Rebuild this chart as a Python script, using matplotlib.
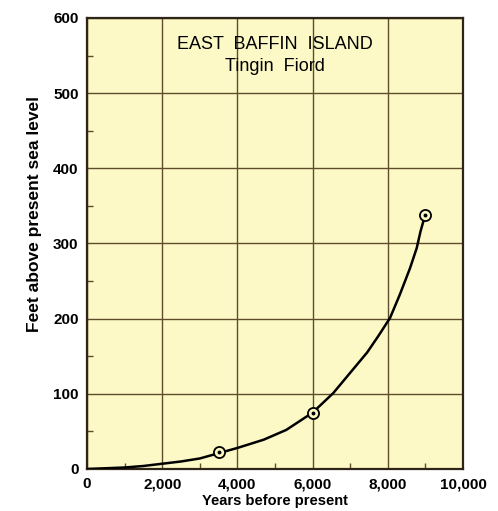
import matplotlib.pyplot as plt
from matplotlib.ticker import MultipleLocator, FuncFormatter

plt.rcParams['font.family'] = ['Liberation Sans', 'DejaVu Sans']

# dated shorelines (circled points)
years = [3500, 6000, 9000]
feet = [22, 75, 338]

# curve
curve_x = [0, 500, 1000, 1500, 2000, 2500, 3000, 3500, 4000, 4700, 5300,
           6000, 6550, 7000, 7450, 7750, 8060, 8320, 8590, 8770, 8870, 8960, 9000]
curve_y = [0, 1, 2, 4, 7, 10, 14, 21, 28, 39, 52,
           75, 101, 128, 155, 177, 201, 232, 267, 294, 316, 332, 338]

bg = '#fcf9c6'
grid_c = '#5e4c2c'

fig = plt.figure(figsize=(4.98, 5.11), dpi=100)
ax = fig.add_axes([0.1747, 0.0822, 0.755, 0.8826])
ax.set_facecolor(bg)

ax.plot(curve_x, curve_y, color='black', lw=1.8, solid_capstyle='round',
        solid_joinstyle='round', zorder=3)
ax.plot(years, feet, ls='none', marker='o', ms=8, mfc=bg, mec='black', mew=1.3, zorder=4)
ax.plot(years, feet, ls='none', marker='o', ms=1.8, color='black', zorder=5)

ax.set_xlim(0, 10000)
ax.set_ylim(0, 600)
ax.xaxis.set_major_locator(MultipleLocator(2000))
ax.yaxis.set_major_locator(MultipleLocator(100))
ax.xaxis.set_minor_locator(MultipleLocator(1000))
ax.yaxis.set_minor_locator(MultipleLocator(50))
ax.xaxis.set_major_formatter(FuncFormatter(lambda v, p: f'{int(v):,}'))
ax.grid(which='major', color=grid_c, lw=1.0)
ax.tick_params(which='major', length=0, pad=6, labelsize=11)
ax.tick_params(which='minor', direction='in', length=4, color=grid_c, width=1)
for lab in ax.get_xticklabels() + ax.get_yticklabels():
    lab.set_fontweight('bold')
for s in ax.spines.values():
    s.set_color('#2e2418')
    s.set_linewidth(1.6)

ax.set_xlabel('Years before present', fontsize=10.5, fontweight='bold', labelpad=2)
ax.set_ylabel('Feet above present sea level', fontsize=12.5, fontweight='bold')
ax.yaxis.set_label_coords(-0.12, 0.565)

ax.text(5000, 565, 'EAST  BAFFIN  ISLAND', ha='center', va='center', fontsize=13)
ax.text(5000, 536, 'Tingin  Fiord', ha='center', va='center', fontsize=13)

fig.savefig('out.png', dpi=100, facecolor='white')
